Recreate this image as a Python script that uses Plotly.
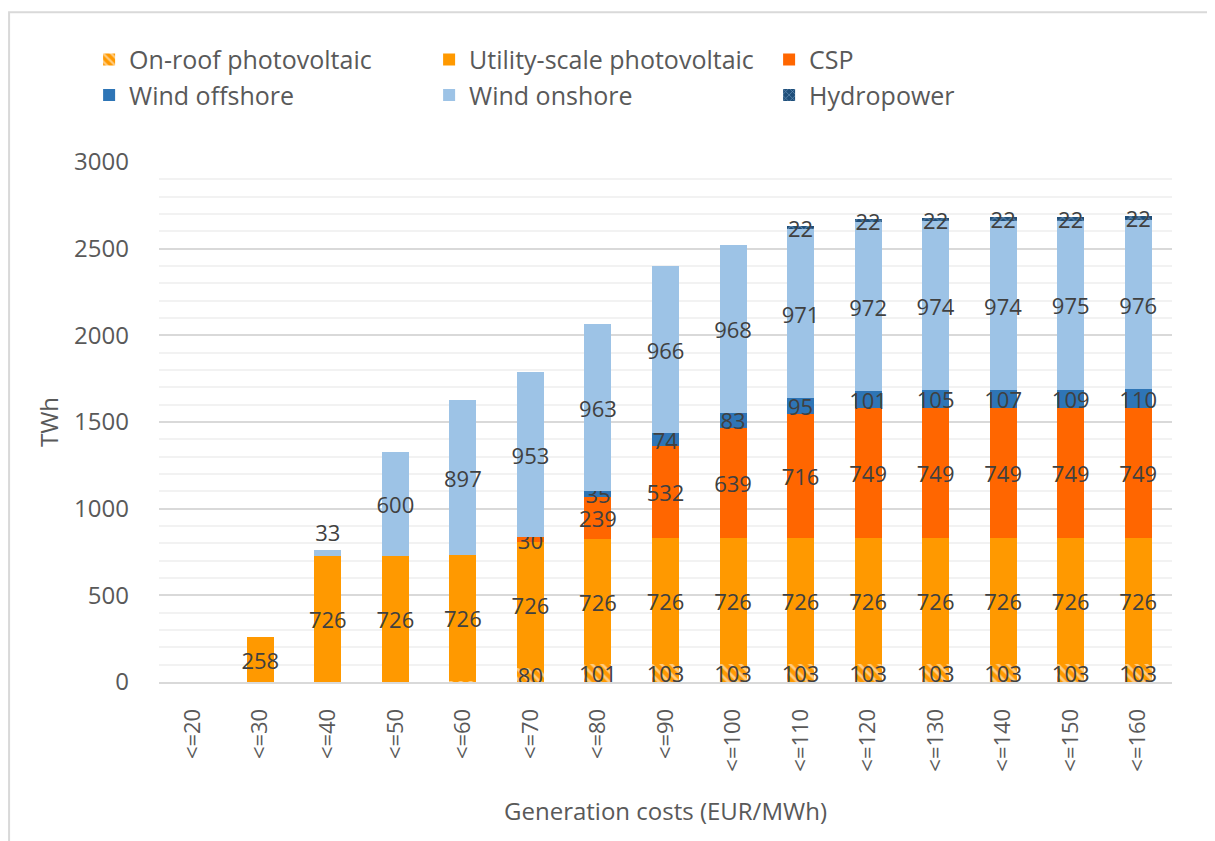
import plotly.graph_objects as go

categories = ["<=20", "<=30", "<=40", "<=50", "<=60", "<=70", "<=80", "<=90",
              "<=100", "<=110", "<=120", "<=130", "<=140", "<=150", "<=160"]

on_roof_pv = [None, None, None, None, 5, 80, 101, 103, 103, 103, 103, 103, 103, 103, 103]
utility_pv = [None, 258, 726, 726, 726, 726, 726, 726, 726, 726, 726, 726, 726, 726, 726]
csp = [None, None, None, None, None, 30, 239, 532, 639, 716, 749, 749, 749, 749, 749]
wind_offshore = [None, None, None, None, None, None, 35, 74, 83, 95, 101, 105, 107, 109, 110]
wind_onshore = [None, None, 33, 600, 897, 953, 963, 966, 968, 971, 972, 974, 974, 975, 976]
hydropower = [None, None, None, None, None, None, None, None, None, 22, 22, 22, 22, 22, 22]

LABEL_FONT = dict(family="Open Sans, Noto Sans, sans-serif", size=22, color="#404040")


def labels(vals):
    return [str(v) if (v is not None and v >= 10) else "" for v in vals]


fig = go.Figure()

series = [
    ("On-roof photovoltaic", on_roof_pv, "#FF9900", dict(shape="\\", fgcolor="white", size=7, solidity=0.4, fillmode="overlay")),
    ("Utility-scale photovoltaic", utility_pv, "#FF9900", None),
    ("CSP", csp, "#FF6600", None),
    ("Wind offshore", wind_offshore, "#2E75B6", None),
    ("Wind onshore", wind_onshore, "#9DC3E6", None),
    ("Hydropower", hydropower, "#1F4E79", dict(shape="x", fgcolor="#9DC3E6", size=6, solidity=0.3, fillmode="overlay")),
]

for name, vals, color, pattern in series:
    marker = dict(color=color, line=dict(width=0))
    if pattern:
        marker["pattern"] = pattern
    tp = "inside"
    if name == "Wind onshore":
        tp = ["outside" if (i == 2) else "inside" for i in range(len(vals))]
    fig.add_trace(go.Bar(
        name=name, x=categories, y=vals, marker=marker,
        text=labels(vals), textposition=tp, insidetextanchor="middle",
        constraintext="none", textfont=LABEL_FONT, outsidetextfont=LABEL_FONT,
        insidetextfont=LABEL_FONT, cliponaxis=False, textangle=0,
    ))

# page body has an 8px margin, so the figure is drawn 8px smaller and shifted
fig.update_layout(
    width=1207, height=833,
    barmode="stack", bargap=0.6,
    paper_bgcolor="white", plot_bgcolor="white",
    margin=dict(l=151, r=43, t=154, b=159, autoexpand=False),
    font=dict(family="Open Sans, Noto Sans, sans-serif", color="#595959"),
    legend=dict(
        orientation="h", x=-0.069, xanchor="left", y=1.241, yanchor="top",
        font=dict(size=25, color="#595959"), entrywidth=295, entrywidthmode="pixels",
        traceorder="normal", itemsizing="constant", tracegroupgap=0,
        bgcolor="rgba(0,0,0,0)",
    ),
    showlegend=True,
)

fig.update_yaxes(
    range=[0, 3000], dtick=500, tick0=0,
    showgrid=True, gridcolor="#d9d9d9", gridwidth=2,
    minor=dict(dtick=100, showgrid=True, gridcolor="#f2f2f2", gridwidth=2),
    zeroline=False, showline=False,
    tickfont=dict(size=24, color="#595959"), ticklabelstandoff=29,
    title=dict(text="TWh", font=dict(size=24, color="#595959"), standoff=8),
)

fig.update_xaxes(
    tickangle=-90, tickfont=dict(size=22, color="#595959"),
    showline=True, linecolor="#d9d9d9", linewidth=2,
    ticklabelstandoff=16,
    title=dict(text="Generation costs (EUR/MWh)", font=dict(size=24, color="#595959"), standoff=32),
)

# chart frame
fig.add_shape(type="rect", xref="paper", yref="paper",
              x0=-0.148, x1=1.06, y0=-0.4, y1=1.288,
              line=dict(color="#d9d9d9", width=2), fillcolor="rgba(0,0,0,0)", layer="below")

fig.write_html("out.html")
